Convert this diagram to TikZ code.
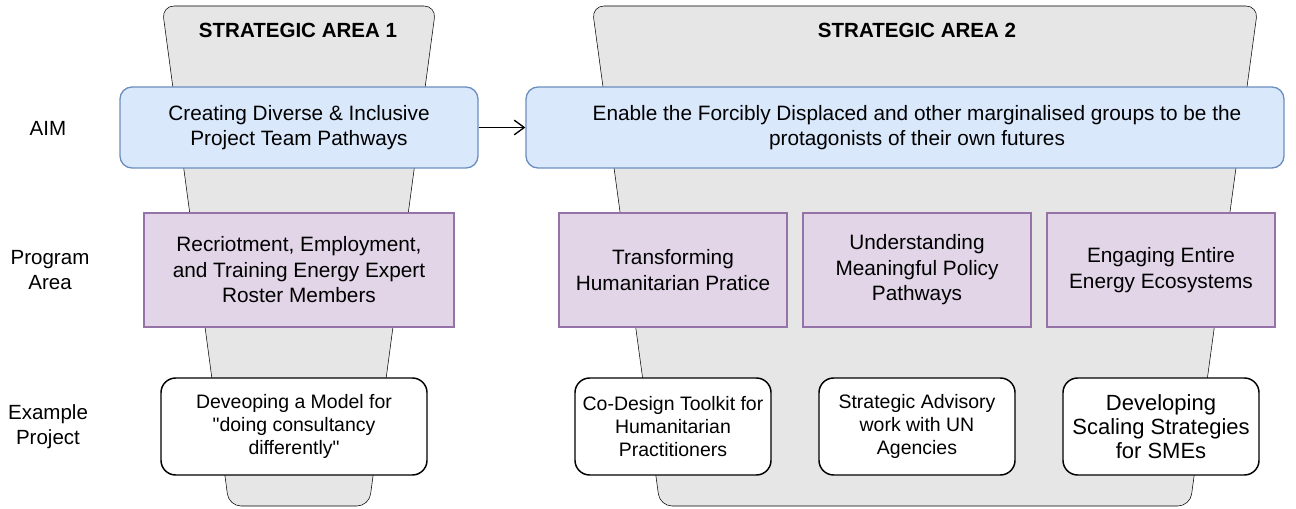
\documentclass[tikz,border=0pt]{standalone}
\usepackage{fontspec}
\setmainfont{Liberation Sans}
\usetikzlibrary{arrows.meta}

\definecolor{aimfill}{HTML}{DAE8FC}
\definecolor{aimline}{HTML}{6C8EBF}
\definecolor{progfill}{HTML}{E1D5E7}
\definecolor{progline}{HTML}{9673A6}
\definecolor{funnelgray}{HTML}{E6E6E6}

\begin{document}
\begin{tikzpicture}[x=0.75pt, y=-0.75pt,
        funnel/.style={fill=funnelgray, rounded corners=9pt},
        areatitle/.style={font=\fontsize{15.4}{18}\selectfont\bfseries},
        rowlabel/.style={align=center, font=\fontsize{15.4}{18.8}\selectfont},
        aimbox/.style={draw=aimline, fill=aimfill, line width=1pt, rounded corners=9pt,
            minimum height=60.75pt, align=center, inner sep=0pt,
            font=\fontsize{15.6}{18.8}\selectfont},
        progbox/.style={draw=progline, fill=progfill, line width=1pt,
            minimum width=171pt, minimum height=85.5pt, align=center, inner sep=0pt,
            font=\fontsize{15.6}{19.1}\selectfont},
        projbox/.style={draw=black, fill=white, line width=1.1pt, rounded corners=11pt,
            minimum width=147pt, minimum height=72.75pt, align=center, inner sep=0pt,
            font=\fontsize{14.6}{17.25}\selectfont}]
        \useasboundingbox (0, 0) rectangle (1296, 509);

        % strategic areas
        \draw[funnel] (162, 6) -- (436, 6) -- (369, 506) -- (229, 506) -- cycle;
        \draw[funnel] (592, 6) -- (1258, 6) -- (1190, 506) -- (660, 506) -- cycle;
        \node[areatitle] (sa1) at (298, 30) {STRATEGIC AREA 1};
        \node[areatitle] (sa2) at (917, 30) {STRATEGIC AREA 2};

        % row labels
        \node[rowlabel] (lblaim) at (48, 128) {AIM};
        \node[rowlabel] (lblprog) at (50, 270) {Program\\Area};
        \node[rowlabel] (lblproj) at (48, 427) {Example\\Project};

        % aims
        \node[aimbox, minimum width=268.5pt] (aim1) at (299, 127.5)
            {Creating Diverse \& Inclusive\\Project Team Pathways};
        \node[aimbox, minimum width=568.5pt] (aim2) at (905, 127.5)
            {\hspace*{18pt}Enable the Forcibly Displaced and other marginalised groups to be the\\\hspace*{18pt}protagonists of their own futures};
        \draw[-{Straight Barb[length=7.5pt, width=11pt]}, line width=1pt] (aim1) -- (aim2);

        % program areas
        \node[progbox, minimum width=232.5pt] (prog1) at (299, 270)
            {Recriotment, Employment,\\and Training Energy Expert\\Roster Members};
        \node[progbox] (prog2) at (673, 270) {Transforming\\Humanitarian Pratice};
        \node[progbox] (prog3) at (917, 270) {Understanding\\Meaningful Policy\\Pathways};
        \node[progbox] (prog4) at (1161, 270) {Engaging Entire\\Energy Ecosystems};

        % example projects
        \node[projbox, minimum width=199.5pt] (proj1) at (294, 426.5)
            {Deveoping a Model for\\\textquotedbl doing consultancy\\differently\textquotedbl};
        \node[projbox] (proj2) at (673, 426.5) {Co-Design Toolkit for\\Humanitarian\\Practitioners};
        \node[projbox] (proj3) at (917, 426.5) {Strategic Advisory\\work with UN\\Agencies};
        \node[projbox, font=\fontsize{16.5}{18}\selectfont] (proj4) at (1161, 426.5)
            {Developing\\Scaling Strategies\\for SMEs};
    \end{tikzpicture}
\end{document}
